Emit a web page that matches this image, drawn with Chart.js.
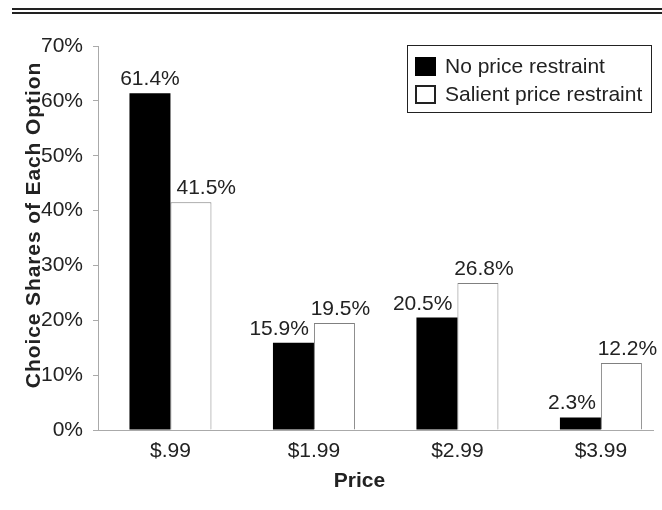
<!DOCTYPE html>
<html>
<head>
<meta charset="utf-8">
<script src="https://cdn.jsdelivr.net/npm/chart.js@4.4.1/dist/chart.umd.min.js"></script>
<style>
    body { margin: 0; background: #fff; }
    #wrap { width: 662px; height: 510px; }
</style>
</head>
<body>
<div id="wrap"><canvas id="myBarChart" width="662" height="510"></canvas></div>
<script>
// chart data
const categories = ["$.99", "$1.99", "$2.99", "$3.99"];
const seriesNames = ["No price restraint", "Salient price restraint"];
const noRestraint = [61.4, 15.9, 20.5, 2.3];
const salientRestraint = [41.5, 19.5, 26.8, 12.2];
const yTicks = [0, 10, 20, 30, 40, 50, 60, 70];
const xTitle = "Price";
const yTitle = "Choice Shares of Each Option";

const FONT = "'Liberation Sans', Arial, Helvetica, sans-serif";
const INK = "#222";

// bar label placement: shorter bar of a pair keeps its text clear of the taller one
const barLabels = {
    id: "barLabels",
    afterDatasetsDraw(chart) {
        const ctx = chart.ctx;
        const m0 = chart.getDatasetMeta(0).data;
        const m1 = chart.getDatasetMeta(1).data;
        ctx.save();
        ctx.font = "21px " + FONT;
        ctx.fillStyle = INK;
        ctx.textBaseline = "alphabetic";
        categories.forEach((c, i) => {
            const a = noRestraint[i], b = salientRestraint[i];
            const barA = m0[i], barB = m1[i];
            const halfA = barA.width / 2, halfB = barB.width / 2;
            // black bar label
            if (a >= b) {
                ctx.textAlign = "center";
                ctx.fillText(a.toFixed(1) + "%", barA.x, barA.y - 8);
            } else {
                ctx.textAlign = "right";
                ctx.fillText(a.toFixed(1) + "%", barA.x + halfA - 5, barA.y - 8);
            }
            // white bar label
            if (b > a) {
                ctx.textAlign = "center";
                ctx.fillText(b.toFixed(1) + "%", barB.x + 6, barB.y - 8);
            } else {
                ctx.textAlign = "left";
                ctx.fillText(b.toFixed(1) + "%", barB.x - halfB + 6, barB.y - 8);
            }
        });
        ctx.restore();
    },
};

// boxed legend, axis titles + double rule on top
const frame = {
    id: "frame",
    afterDraw(chart) {
        const ctx = chart.ctx;
        ctx.save();
        ctx.fillStyle = INK;
        ctx.fillRect(12, 8, 650, 2);
        ctx.fillRect(12, 12, 650, 2);

        ctx.strokeStyle = INK;
        ctx.lineWidth = 1;
        ctx.strokeRect(407.5, 45.5, 244, 67);

        ctx.font = "21px " + FONT;
        ctx.textBaseline = "middle";
        ctx.textAlign = "left";
        chart.data.datasets.forEach((ds, i) => {
            const y = 57 + i * 28;
            if (i === 0) {
                ctx.fillStyle = ds.backgroundColor;
                ctx.fillRect(415, y, 21, 19);
            } else {
                ctx.fillStyle = "#fff";
                ctx.fillRect(415, y, 21, 19);
                ctx.lineWidth = 2;
                ctx.strokeRect(416, y + 1, 19, 17);
            }
            ctx.fillStyle = INK;
            ctx.fillText(ds.label, 445, y + 10);
        });

        // axis titles (the original sits them a bit off the axis centres)
        ctx.fillStyle = INK;
        ctx.font = "bold 21px " + FONT;
        ctx.textAlign = "center";
        ctx.textBaseline = "middle";
        ctx.fillText(xTitle, 359.5, 481.5);

        ctx.translate(34, 225);
        ctx.rotate(-Math.PI / 2);
        ctx.letterSpacing = "0.9px";
        ctx.fillText(yTitle, 0, 0);
        ctx.restore();
    },
};

const ctx = document.getElementById("myBarChart");

new Chart(ctx, {
    type: "bar",
    data: {
        datasets: [
            {
                label: seriesNames[0],
                data: noRestraint.map((v, i) => ({ x: i, y: v })),
                backgroundColor: "#000",
                borderColor: "#000",
                borderWidth: 0,
            },
            {
                label: seriesNames[1],
                data: salientRestraint.map((v, i) => ({ x: i, y: v })),
                backgroundColor: "#fff",
                borderColor: "#808080",
                borderWidth: 1,
            },
        ],
    },
    options: {
        responsive: false,
        animation: false,
        categoryPercentage: 0.5714,
        barPercentage: 1,
        layout: {
            padding: { top: 46, right: 9, left: 0, bottom: 0 },
        },
        scales: {
            x: {
                type: "linear",
                offset: false,
                min: -0.505,
                max: 3.363,
                afterBuildTicks: (scale) => {
                    scale.ticks = categories.map((c, i) => ({ value: i }));
                },
                afterFit: (scale) => {
                    scale.height = 80;
                },
                border: { display: true, color: "#aaa", width: 1 },
                grid: { display: false, drawTicks: false },
                ticks: {
                    padding: 9,
                    maxRotation: 0,
                    autoSkip: false,
                    color: INK,
                    font: { family: FONT, size: 21 },
                    callback: (v) => categories[v],
                },
            },
            y: {
                min: 0,
                max: 70,
                afterBuildTicks: (scale) => {
                    scale.ticks = yTicks.map((v) => ({ value: v }));
                },
                afterFit: (scale) => {
                    scale.width = 98;
                },
                border: { display: true, color: "#aaa", width: 1 },
                grid: {
                    drawOnChartArea: false,
                    drawTicks: true,
                    tickLength: 5,
                    color: "#aaa",
                },
                ticks: {
                    padding: 10,
                    color: INK,
                    font: { family: FONT, size: 21 },
                    callback: (v) => v + "%",
                },
            },
        },
        plugins: {
            legend: { display: false },
            tooltip: { enabled: false },
        },
    },
    plugins: [barLabels, frame],
});
</script>
</body>
</html>
